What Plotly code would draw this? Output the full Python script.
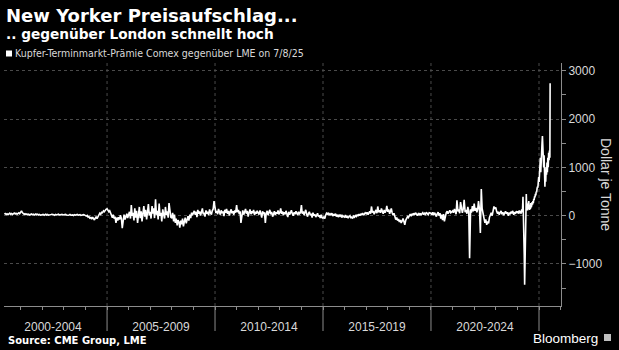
import pandas as pd
import plotly.graph_objects as go

# ---------------- data ----------------
# semi-monthly samples (1st and 15th), USD per tonne
v2000_2004 = [
    30, 45, 25, 40, 20, 35, 50, 30, 45, 25, 40, 55, 35, 50, 30, 45, 60, 40,            # 2000 (Apr-Dec)
    70, 100, 60, 45, 30, 40, 25, 35, 20, 30, 15, 25, 35, 20, 30, 15, 25, 35, 20, 30, 15, 25, 10, 20,   # 2001
    15, 25, 10, 20, 30, 15, 25, 10, 20, 15, 25, 30, 15, 20, 10, 25, 15, 20, 30, 15, 20, 10, 25, 15,    # 2002
    20, 10, 25, 15, 20, 10, 15, 25, 10, 20, 15, 5, 20, 10, 15, 25, 10, 15, 20, 5, 15, 10, 20, 15,      # 2003
    10, -10, 5, -30, -20, -50, -40, -70, -30, -60, -90, -50, -20, -60, -30, 20, 50, 30, 70, 60, 100, 80, 120, 130,  # 2004
]
v2005_2009 = [
    140, 120, 80, 100, 40, 0, -40, 20, -60, -20, -150, -40, -100, -30, -80, 10, -60, -260, -40, 20, -80, -20, 40, -50,
    20, 80, -60, 220, 0, 60, -100, 150, -40, 100, -150, 50, 180, -50, 90, -120, 30, 200, -20, 120, -80, 60, 240, 10,
    80, -60, 200, 40, 150, -50, 340, 20, 100, -80, 250, 0, 60, -120, 130, 30, -60, 180, 20, 90, -40, 260, 50, -30,
    -50, 60, -120, 20, -150, -60, -200, -90, -130, -250, -100, -180, -60, -220, -120, -40, -160, -80, -10, -100, 20, -50, 60, 10,
    50, 100, 20, 80, -30, 120, 40, 90, 0, 70, 150, 30, 60, -20, 110, 40, 80, 10, 130, 60, 20, 100, 140, 300,
]
v2010_2014 = [
    120, 60, 100, 30, 140, 70, 20, 110, 50, 90, -10, 120, 60, 140, 40, 100, 0, 80, 130, 50, 90, 20, 110, 60,
    220, 70, 120, 30, 90, -150, 60, 110, 20, 80, 140, 40, 100, -20, 70, 130, 30, 90, 50, 120, 10, 80, 40, 100,
    60, 20, 110, 50, -40, 90, 30, 70, -150, 40, 100, 10, 60, 120, 30, 80, -20, 50, 90, 20, 70, 40, 110, 30,
    60, 150, 40, 90, 10, 70, 30, 100, 50, -30, 80, 20, 60, 110, 40, 0, 70, 30, 90, 50, 10, 80, 40, 60,
    220, 40, 90, 10, 60, 120, 30, -20, 50, 80, 10, 40, -40, 60, 0, 30, -30, 20, 50, -20, 10, -50, 20, -40,
]
v2015_2019 = [
    -50, -20, -60, 10, 50, 30, 60, 10, 40, 20, 50, -10, 30, 0, 40, -20, 20, -30, 10, -10, 20, -40, 0, -20,
    -30, 10, -40, -10, -50, -20, 0, -40, -30, -60, -10, -30, 0, -20, 20, -10, 30, 0, 40, 10, 50, 20, 30, 60,
    40, 70, 20, 60, 90, 40, 190, 60, 100, 30, 80, 120, 50, 190, 70, 110, 60, 150, 90, 40, 120, 60, 100, 200,
    80, 130, 40, 90, 150, 60, 10, 50, -30, -80, -40, -100, -70, -130, -90, -150, -110, -60, -120, -190, -90, -60, -20, -40,
    0, 30, -10, 40, 10, 50, 20, 60, 30, 0, 40, 20, 50, 10, 40, 60, 20, 50, 30, 70, 40, 20, 60, 50,
]
v2020_2023 = [
    50, 20, 70, 10, 60, 30, -20, 40, 70, 0, 50, -60, 20, -90, 30, -120, 10, 60, 90, 40, 80, 110, 60, 90,
    100, 60, 140, 80, 30, 320, 90, 130, 50, 280, 110, 60, 150, 330, 70, 120, 40, 180, 90, -880, 130, 60, 200, 90,
    250, 100, 160, 70, 130, 300, 120, -360, 550, 150, 40, -60, -150, -80, -190, -120, -160, -40, 20, 60, 0, 120, 190, 140,
    170, 90, 40, 80, 20, 60, 100, 30, 70, 10, 50, 90, 40, 70, 0, 60, 30, 80, 50, 100, 20, 70, 40, 90,
]
# weekly samples (Fridays)
v2024 = [
    60, 90, 40, 80, 110, 50, 70, 100, 40, 90, 130, 70, 150,
    390, 120, -400, -800, -1430, -600, -200, 200, 450,
    150, 250, 110, 200, 130, 300, 160, 120, 220, 140, 260, 170, 210, 280, 230,
    300, 260, 350, 320, 400, 380, 450, 420, 500, 480, 560, 600, 580, 700, 800,
]
v2025 = [
    700, 1000, 800, 1200, 900, 1300, 1100, 1500, 1650, 1200, 1400, 1000, 1250,
    800, 600, 900, 700, 1000, 850, 1100, 900, 1200, 1000, 1300, 1150, 1350, 1200,
]
last_date = ["2025-07-08"]
last_value = [2740]

period_labels = ["2000-2004", "2005-2009", "2010-2014", "2015-2019", "2020-2024"]
period_mid = ["2002-07-02", "2007-07-02", "2012-07-02", "2017-07-02", "2022-07-02"]
boundaries = ["2005-01-01", "2010-01-01", "2015-01-01", "2020-01-01", "2025-01-01"]
y_ticks = [-1000, 0, 1000, 2000, 3000]

# ---------------- build series ----------------
parts = [
    (pd.date_range("2000-04-01", periods=len(v2000_2004), freq="SMS"), v2000_2004),
    (pd.date_range("2005-01-01", periods=len(v2005_2009), freq="SMS"), v2005_2009),
    (pd.date_range("2010-01-01", periods=len(v2010_2014), freq="SMS"), v2010_2014),
    (pd.date_range("2015-01-01", periods=len(v2015_2019), freq="SMS"), v2015_2019),
    (pd.date_range("2020-01-01", periods=len(v2020_2023), freq="SMS"), v2020_2023),
    (pd.date_range("2024-01-05", periods=len(v2024), freq="W-FRI"), v2024),
    (pd.date_range("2025-01-03", periods=len(v2025), freq="W-FRI"), v2025),
    (pd.to_datetime(last_date), last_value),
]
dates = []
values = []
for d, v in parts:
    dates += list(d)
    values += list(v)

W, H = 619, 350
ML, MR, MT, MB = 4, 58, 63, 44
PW, PH = W - ML - MR, H - MT - MB


def px_x(px):
    return (px - ML) / PW


def px_y(py):
    return 1 - (py - MT) / PH


fig = go.Figure()
fig.add_trace(go.Scatter(
    x=dates, y=values, mode="lines",
    line=dict(color="#ffffff", width=1.6),
    showlegend=False, hoverinfo="skip",
))

grid_col = "#4a4a4a"
axis_col = "#8c8c8c"
text_col = "#d9d9d9"

shapes = []
for b in boundaries:
    # dotted vertical gridline
    shapes.append(dict(type="line", xref="x", yref="paper", x0=b, x1=b, y0=0, y1=1,
                       line=dict(color=grid_col, width=1, dash="dot"), layer="below"))
    # separator between period labels
    shapes.append(dict(type="line", xref="x", yref="paper", x0=b, x1=b, y0=0, y1=px_y(331),
                       line=dict(color=axis_col, width=1), layer="above"))
# legend square
shapes.append(dict(type="rect", xref="paper", yref="paper",
                   x0=px_x(6), x1=px_x(12), y0=px_y(56.5), y1=px_y(50.5),
                   fillcolor="#ffffff", line=dict(width=0)))
# Bloomberg icon
shapes.append(dict(type="rect", xref="paper", yref="paper",
                   x0=px_x(604), x1=px_x(611), y0=px_y(341), y1=px_y(334),
                   fillcolor="#bfbfbf", line=dict(width=0)))

annotations = [
    dict(text="<b>New Yorker Preisaufschlag...</b>", xref="paper", yref="paper",
         x=px_x(4), y=px_y(15), xanchor="left", yanchor="middle", showarrow=False,
         font=dict(family="DejaVu Sans", size=18, color="#ffffff")),
    dict(text="<b>.. gegenüber London schnellt hoch</b>", xref="paper", yref="paper",
         x=px_x(4), y=px_y(34), xanchor="left", yanchor="middle", showarrow=False,
         font=dict(family="DejaVu Sans", size=13.7, color="#ffffff")),
    dict(text="Kupfer-Terminmarkt-Prämie Comex gegenüber LME on 7/8/25", xref="paper", yref="paper",
         x=px_x(13), y=px_y(53.5), xanchor="left", yanchor="middle", showarrow=False,
         font=dict(family="DejaVu Sans Condensed", size=10.5, color=text_col)),
    dict(text="Dollar je Tonne", xref="paper", yref="paper", textangle=90,
         x=px_x(606), y=px_y(184), xanchor="center", yanchor="middle", showarrow=False,
         font=dict(family="Liberation Sans", size=14, color=text_col)),
    dict(text="<b>Source: CME Group, LME</b>", xref="paper", yref="paper",
         x=px_x(6), y=px_y(340), xanchor="left", yanchor="middle", showarrow=False,
         font=dict(family="DejaVu Sans", size=10, color="#ffffff")),
    dict(text="Bloomberg", xref="paper", yref="paper",
         x=px_x(600), y=px_y(338), xanchor="right", yanchor="middle", showarrow=False,
         font=dict(family="Liberation Sans", size=13.5, color="#ffffff")),
]

fig.update_layout(
    width=W, height=H,
    margin=dict(l=ML, r=MR, t=MT, b=MB),
    paper_bgcolor="#000000", plot_bgcolor="#000000",
    shapes=shapes, annotations=annotations,
    xaxis=dict(
        type="date", range=["2000-03-25", "2026-01-08"],
        tickvals=period_mid, ticktext=period_labels, ticks="",
        tickfont=dict(family="Liberation Sans", size=12, color=text_col),
        ticklabelstandoff=10,
        showgrid=False, zeroline=False,
        showline=True, linecolor=axis_col, linewidth=1,
        minor=dict(dtick="M12", tick0="2000-01-01", ticks="outside", ticklen=3,
                   tickcolor=axis_col, showgrid=False),
    ),
    yaxis=dict(
        side="right", range=[-1870, 3160],
        tickvals=y_ticks, ticks="outside", ticklen=4, tickcolor=axis_col,
        tickfont=dict(family="Liberation Sans", size=12, color=text_col),
        showgrid=True, gridcolor=grid_col, griddash="dot", gridwidth=1,
        zeroline=False, showline=True, linecolor=axis_col, linewidth=1,
        minor=dict(dtick=500, ticks="outside", ticklen=4, tickcolor=axis_col, showgrid=False),
    ),
)

fig.write_html("out.html")
